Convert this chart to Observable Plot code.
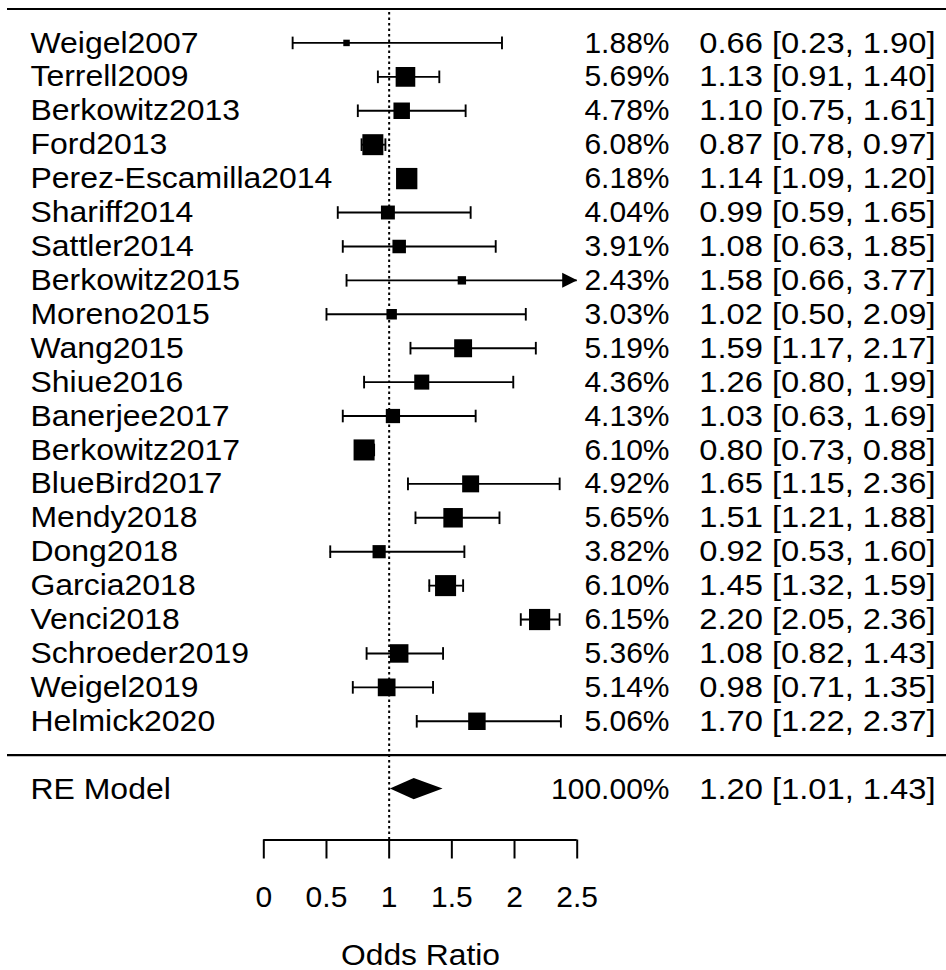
<!DOCTYPE html>
<html><head><meta charset="utf-8">
<script src="https://cdn.jsdelivr.net/npm/d3@7"></script>
<script src="https://cdn.jsdelivr.net/npm/@observablehq/plot@0.6"></script>
<style>body{margin:0;background:#fff} svg{display:block}</style>
</head><body><div id="chart"></div>
<script>
const studies = ["Weigel2007","Terrell2009","Berkowitz2013","Ford2013","Perez-Escamilla2014","Shariff2014","Sattler2014","Berkowitz2015","Moreno2015","Wang2015","Shiue2016","Banerjee2017","Berkowitz2017","BlueBird2017","Mendy2018","Dong2018","Garcia2018","Venci2018","Schroeder2019","Weigel2019","Helmick2020"];
const weights = [1.88,5.69,4.78,6.08,6.18,4.04,3.91,2.43,3.03,5.19,4.36,4.13,6.10,4.92,5.65,3.82,6.10,6.15,5.36,5.14,5.06];
const estimates = [0.66,1.13,1.10,0.87,1.14,0.99,1.08,1.58,1.02,1.59,1.26,1.03,0.80,1.65,1.51,0.92,1.45,2.20,1.08,0.98,1.70];
const lowers = [0.23,0.91,0.75,0.78,1.09,0.59,0.63,0.66,0.50,1.17,0.80,0.63,0.73,1.15,1.21,0.53,1.32,2.05,0.82,0.71,1.22];
const uppers = [1.90,1.40,1.61,0.97,1.20,1.65,1.85,3.77,2.09,2.17,1.99,1.69,0.88,2.36,1.88,1.60,1.59,2.36,1.43,1.35,2.37];
const pooledLabel = "RE Model";
const pooledWeight = 100;
const pooledEst = 1.20, pooledLo = 1.01, pooledHi = 1.43;
const xTicks = [0,0.5,1,1.5,2,2.5];
const axisLabel = "Odds Ratio";
const refValue = 1;

const k = studies.length;
const xMin = xTicks[0], xMax = xTicks[xTicks.length-1];
const rows = studies.map((name,i)=>({name, weight:weights[i], est:estimates[i], lo:lowers[i], hi:uppers[i], row:k-i}));
rows.forEach(d=>{ d.loClip=Math.max(d.lo,xMin); d.hiClip=Math.min(d.hi,xMax); });
const pooled = {name:pooledLabel, weight:pooledWeight, est:pooledEst, lo:pooledLo, hi:pooledHi, row:-1};
const fmt = d3.format(".2f");
const ciText = d => `${fmt(d.est)} [${fmt(d.lo)}, ${fmt(d.hi)}]`;
const pctText = d => `${fmt(d.weight)}%`;
const topRow = k + 1;
const axisRow = -2.5;
const diamondHalf = 0.31;
const diamond = [
  {x:pooled.lo, y1:pooled.row, y2:pooled.row},
  {x:pooled.est, y1:pooled.row-diamondHalf, y2:pooled.row+diamondHalf},
  {x:pooled.hi, y1:pooled.row, y2:pooled.row}
];

const squareSym = {draw(ctx,size){const r=Math.sqrt(size/Math.PI); ctx.rect(-r,-r,2*r,2*r);}};
const capSym = {draw(ctx,size){const r=Math.sqrt(size/Math.PI); ctx.moveTo(0,-r); ctx.lineTo(0,r);}};
const arrowSym = {draw(ctx,size){const r=Math.sqrt(size/Math.PI); ctx.moveTo(0,0); ctx.lineTo(-2*r,-r); ctx.lineTo(-2*r,r); ctx.closePath();}};

const FS = 30;
const textBase = {fontSize: FS, fill: "black"};
const all = rows.concat([pooled]);

const svg = Plot.plot({
  width: 946, height: 970,
  marginTop: 0, marginRight: 0, marginBottom: 0, marginLeft: 0,
  style: {fontFamily: "'Liberation Sans', Arial, sans-serif", background: "white", color: "black"},
  x: {domain: [xMin, xMax], range: [263.3, 576.7], axis: null},
  y: {domain: [axisRow, topRow], range: [839.5, 8.5], axis: null},
  r: {type: "linear", domain: [0, 10], range: [0, 17.25]},
  marks: [
    Plot.ruleY([topRow, 0], {insetLeft: 7, stroke: "black", strokeWidth: 2.2}),
    Plot.ruleX([refValue], {y1: axisRow, y2: topRow, stroke: "black", strokeWidth: 2, strokeDasharray: "2.5,3"}),
    Plot.ruleY(rows, {y: "row", x1: "loClip", x2: "hiClip", stroke: "black", strokeWidth: 1.9}),
    Plot.dot(rows.filter(d=>d.lo>=xMin), {x: "lo", y: "row", symbol: capSym, r: 6.3, stroke: "black", fill: "none", strokeWidth: 1.9}),
    Plot.dot(rows.filter(d=>d.hi<=xMax), {x: "hi", y: "row", symbol: capSym, r: 6.3, stroke: "black", fill: "none", strokeWidth: 1.9}),
    Plot.dot(rows.filter(d=>d.hi>xMax), {x: "hiClip", y: "row", symbol: arrowSym, r: 7.5, fill: "black", stroke: "none"}),
    Plot.dot(rows, {x: "est", y: "row", r: "weight", symbol: squareSym, fill: "black", stroke: "none"}),
    Plot.areaY(diamond, {x: "x", y1: "y1", y2: "y2", fill: "black", curve: "linear"}),
    Plot.text(all, {...textBase, y: "row", text: "name", frameAnchor: "left", textAnchor: "start", dx: 30}),
    Plot.text(all, {...textBase, y: "row", text: pctText, frameAnchor: "right", textAnchor: "end", dx: -277}),
    Plot.text(all, {...textBase, y: "row", text: ciText, frameAnchor: "right", textAnchor: "end", dx: -11}),
    Plot.ruleY([axisRow], {x1: xMin, x2: xMax, stroke: "black", strokeWidth: 2}),
    Plot.ruleX(xTicks, {x: d=>d, y1: axisRow, y2: axisRow, insetBottom: -19, stroke: "black", strokeWidth: 2}),
    Plot.text(xTicks, {...textBase, x: d=>d, y: axisRow, dy: 57.5, text: d=>String(d)}),
    Plot.text([axisLabel], {...textBase, x: (xMin+xMax)/2, y: axisRow, dy: 115, text: d=>d})
  ]
});
// horizontal widening of glyphs per text column (the reference's text is set wider than Arial)
const stretches = [1.065, 1.0, 1.09, 1.0, 1.06];
svg.querySelectorAll('g[aria-label="text"]').forEach((g, gi) => {
  const s = stretches[gi] ?? 1;
  if (s === 1) return;
  g.querySelectorAll("text").forEach(t => {
    const tr = t.getAttribute("transform") || "";
    t.setAttribute("transform", `${tr} scale(${s},1)`);
  });
});
document.getElementById("chart").appendChild(svg);
</script>
</body></html>
